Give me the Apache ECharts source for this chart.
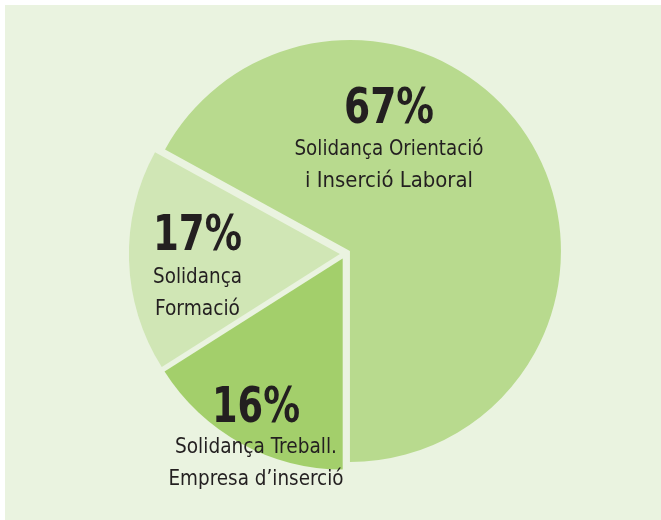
<!DOCTYPE html>
<html>
<head>
<meta charset="utf-8">
<script src="https://cdn.jsdelivr.net/npm/echarts@6/dist/echarts.min.js"></script>
<style>
html,body{margin:0;padding:0;background:#ffffff;}
#chart{width:661px;height:520px;}
</style>
</head>
<body>
<div id="chart"></div>
<script>
var categories = ['Solidança Orientació\ni Inserció Laboral', 'Solidança Treball.\nEmpresa d\u2019inserció', 'Solidança\nFormació'];
var values = [67, 16, 17];
var percentLabels = ['67%', '16%', '17%'];
var sliceColors = ['#b8da8e', '#a3cf6b', '#d0e6b5'];

// label layout (style): centre x, cap-centre y of number, first text line, line step; target widths
var labelCx = [389, 256, 197.5];
var numY = [110, 409, 237];
var lineY0 = [150, 448, 278];
var lineStep = 32;
var numWidth = [90, 88, 89];
var lineWidths = [[189, 168], [162, 175], [89, 85]];

var FONT_FAMILY = '"DejaVu Sans Condensed", "DejaVu Sans", sans-serif';
var NUM_FONT = 'bold 50px ' + FONT_FAMILY;
var TXT_FONT = 'normal 21px ' + FONT_FAMILY;
var TEXT_COLOR = '#231f20';

var ctx = document.createElement('canvas').getContext('2d');
function measure(text, font) { ctx.font = font; return ctx.measureText(text).width; }

function textEl(text, font, cx, cy, targetW) {
  var w = measure(text, font);
  var s = targetW / w;
  return {
    type: 'text', silent: true, z: 100,
    x: cx, y: cy, scaleX: s, scaleY: 1,
    style: {
      text: text, font: font, fill: TEXT_COLOR,
      textAlign: 'center', textVerticalAlign: 'middle',
      align: 'center', verticalAlign: 'middle'
    }
  };
}

var graphics = [{
  type: 'rect', z: -10, silent: true,
  shape: {x: 5, y: 5, width: 661, height: 520},
  style: {fill: '#eaf3e0'}
}];
values.forEach(function (v, i) {
  graphics.push(textEl(percentLabels[i], NUM_FONT, labelCx[i], numY[i], numWidth[i]));
  categories[i].split('\n').forEach(function (line, j) {
    graphics.push(textEl(line, TXT_FONT, labelCx[i], lineY0[i] + j * lineStep, lineWidths[i][j]));
  });
});

var chart = echarts.init(document.getElementById('chart'), null, {renderer: 'canvas'});
var data = values.map(function (v, i) {
  return {
    value: v,
    name: categories[i],
    selected: true,
    itemStyle: {color: sliceColors[i]},
    select: {itemStyle: {color: sliceColors[i]}}
  };
});
chart.setOption({
  backgroundColor: '#ffffff',
  animation: false,
  graphic: graphics,
  series: [{
    type: 'pie',
    center: [345.3, 253.8],
    radius: 211,
    startAngle: 151.2,
    clockwise: true,
    selectedMode: 'multiple',
    selectedOffset: 5.4,
    emphasis: {disabled: true},
    itemStyle: {borderWidth: 0},
    label: {show: false},
    labelLine: {show: false},
    data: data
  }]
});
</script>
</body>
</html>
